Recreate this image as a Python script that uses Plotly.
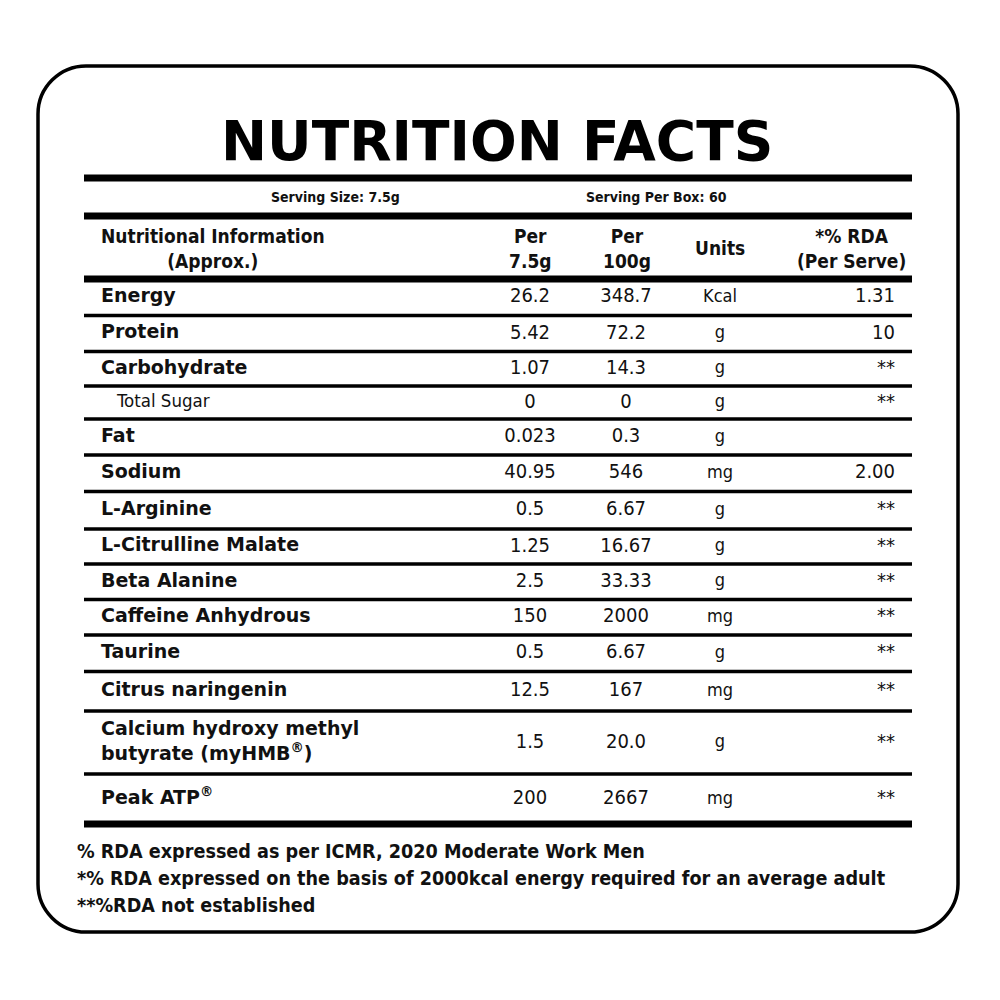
import plotly.graph_objects as go

# table data
nutrients = ["Energy", "Protein", "Carbohydrate", "Total Sugar", "Fat", "Sodium",
             "L-Arginine", "L-Citrulline Malate", "Beta Alanine", "Caffeine Anhydrous",
             "Taurine", "Citrus naringenin",
             "Calcium hydroxy methyl<br>butyrate (myHMB<sup>®</sup>)", "Peak ATP<sup>®</sup>"]
per_serve = ["26.2", "5.42", "1.07", "0", "0.023", "40.95", "0.5", "1.25", "2.5",
             "150", "0.5", "12.5", "1.5", "200"]
per_100g = ["348.7", "72.2", "14.3", "0", "0.3", "546", "6.67", "16.67", "33.33",
            "2000", "6.67", "167", "20.0", "2667"]
units = ["Kcal", "g", "g", "g", "g", "mg", "g", "g", "g", "mg", "g", "mg", "g", "mg"]
rda = ["1.31", "10", "**", "**", "", "2.00", "**", "**", "**", "**", "**", "**", "**", "**"]
sub_rows = [3]  # indented sub-item (Total Sugar)

title = "NUTRITION FACTS"
serving_size = "Serving Size: 7.5g"
serving_box = "Serving Per Box: 60"
headers = ["Nutritional Information<br>(Approx.)", "Per<br>7.5g", "Per<br>100g", "Units",
           "*% RDA<br>(Per Serve)"]
footnotes = ["% RDA expressed as per ICMR, 2020 Moderate Work Men",
             "*% RDA expressed on the basis of 2000kcal energy required for an average adult",
             "**%RDA not established"]

# layout (pixels, y grows downward)
row_edges = [279, 315.5, 351.5, 386, 419, 455, 491.5, 529, 564, 599.5, 635, 671.5, 711, 774, 824]
row_mid = [(a + b) / 2 for a, b in zip(row_edges[:-1], row_edges[1:])]
X0, X1 = 84, 912
COND = "DejaVu Sans Condensed"
HEAVY = "DejaVu Sans"
OFF = 8  # page offset

fig = go.Figure()


def col(x, texts, pos, size=20, family=COND, weight="normal", rows=None):
    if rows is None:
        rows = [i for i, t in enumerate(texts) if t != ""]
    fig.add_trace(go.Scatter(
        x=[x] * len(rows), y=[row_mid[i] for i in rows], text=[texts[i] for i in rows],
        mode="text", textposition=pos, hoverinfo="skip", showlegend=False,
        textfont=dict(family=family, size=size, color="#111", weight=weight)))


main_rows = [i for i in range(len(nutrients)) if i not in sub_rows]
col(101, nutrients, "middle right", size=19, family=HEAVY, weight="bold", rows=main_rows)
col(117, nutrients, "middle right", size=18.5, rows=sub_rows)
col(530, per_serve, "middle center")
col(626, per_100g, "middle center")
col(720, units, "middle center", size=18)
col(895, rda, "middle left")

# header row
hx = [213, 530, 627, 720, 851]
for x, h in zip(hx, headers):
    fig.add_annotation(x=x, y=248, text=h, showarrow=False, xanchor="center", yanchor="middle",
                       font=dict(family=COND, size=19, color="#111", weight="bold"))

# serving row
fig.add_annotation(x=335, y=197, text=serving_size, showarrow=False,
                   font=dict(family=COND, size=14, color="#111", weight="bold"))
fig.add_annotation(x=656, y=197, text=serving_box, showarrow=False,
                   font=dict(family=COND, size=14, color="#111", weight="bold"))

# title
fig.add_annotation(x=497, y=141, text=title, showarrow=False, yanchor="middle",
                   font=dict(family=HEAVY, size=55, color="#000", weight="bold"))

# footnotes
for i, f in enumerate(footnotes):
    fig.add_annotation(x=75, y=851 + 27 * i, text=f, showarrow=False, xanchor="left",
                       yanchor="middle",
                       font=dict(family=COND, size=19.6, color="#111", weight="bold"))

# rules
for y in [178, 216]:
    fig.add_shape(type="line", x0=X0, x1=X1, y0=y, y1=y, line=dict(color="#000", width=7))
for i, y in enumerate(row_edges):
    w = 7 if i in (0, len(row_edges) - 1) else 3.5
    fig.add_shape(type="line", x0=X0, x1=X1, y0=y, y1=y, line=dict(color="#000", width=w))

# rounded outer border
L, R, T, B, r = 38, 958, 66, 932, 48
k = r * 0.45
path = (f"M {L + r},{T} L {R - r},{T} C {R - k},{T} {R},{T + k} {R},{T + r} "
        f"L {R},{B - r} C {R},{B - k} {R - k},{B} {R - r},{B} "
        f"L {L + r},{B} C {L + k},{B} {L},{B - k} {L},{B - r} "
        f"L {L},{T + r} C {L},{T + k} {L + k},{T} {L + r},{T} Z")
fig.add_shape(type="path", path=path, line=dict(color="#000", width=3.5))

fig.update_layout(
    width=1000, height=1000,
    margin=dict(l=0, r=0, t=0, b=0),
    paper_bgcolor="white", plot_bgcolor="white",
    xaxis=dict(range=[OFF, 1000 + OFF], visible=False, fixedrange=True),
    yaxis=dict(range=[1000 + OFF, OFF], visible=False, fixedrange=True),
)

fig.write_html("out.html")
